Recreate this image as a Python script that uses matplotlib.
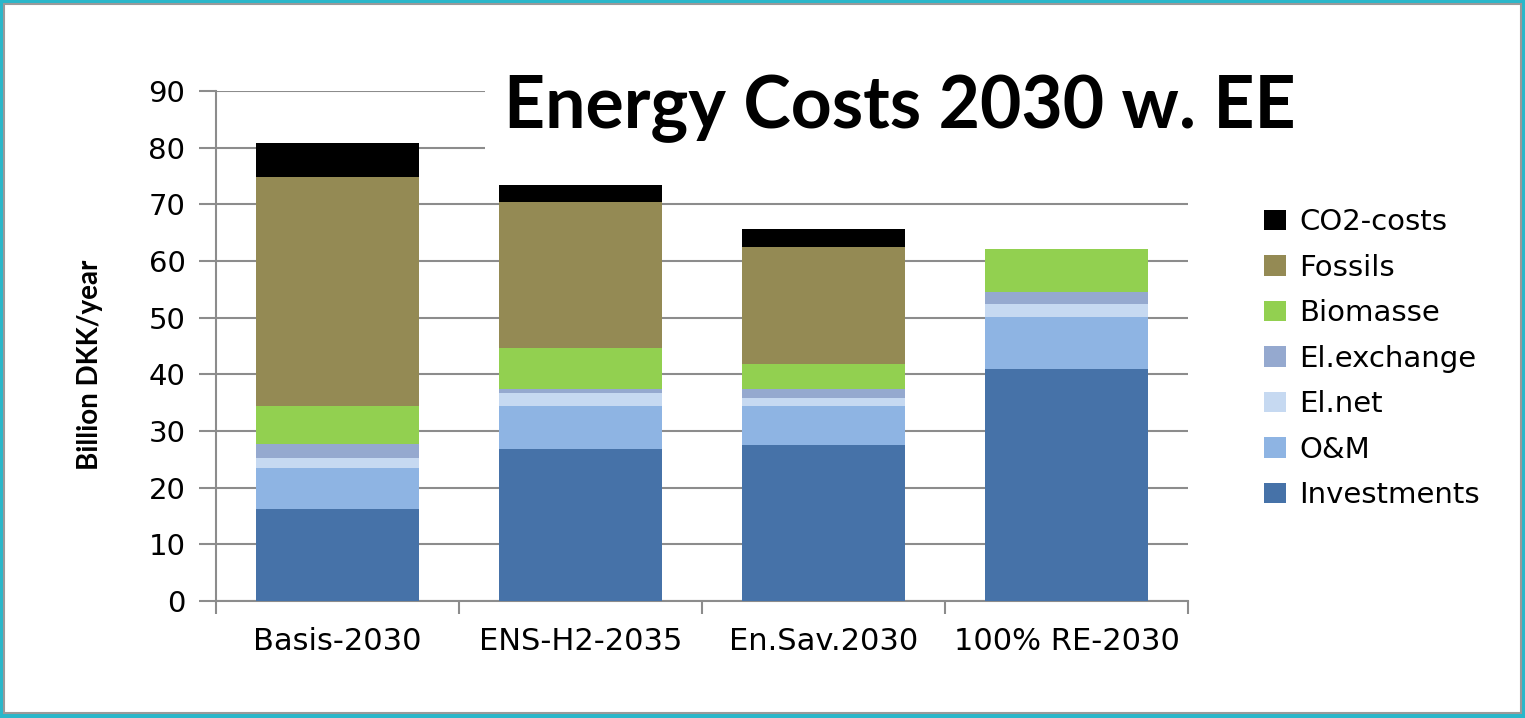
import numpy as np
import matplotlib
matplotlib.use("Agg")
import matplotlib.pyplot as plt
from matplotlib.patches import Rectangle

# data (billion DKK/year)
scenarios = ["Basis-2030", "ENS-H2-2035", "En.Sav.2030", "100% RE-2030"]
investments = [16.2, 26.8, 27.6, 40.9]
om = [7.2, 7.7, 6.9, 9.3]
el_net = [1.8, 2.15, 1.4, 2.15]
el_exchange = [2.45, 0.85, 1.6, 2.25]
biomasse = [6.7, 7.1, 4.4, 7.6]
fossils = [40.55, 25.9, 20.5, 0.0]
co2_costs = [5.9, 3.0, 3.2, 0.0]

series = [
    ("Investments", investments, "#4672A8"),
    ("O&M", om, "#8EB4E3"),
    ("El.net", el_net, "#C6D9F1"),
    ("El.exchange", el_exchange, "#95A9CF"),
    ("Biomasse", biomasse, "#92D050"),
    ("Fossils", fossils, "#948A54"),
    ("CO2-costs", co2_costs, "#000000"),
]

fig = plt.figure(figsize=(15.25, 7.18), dpi=100)
ax = fig.add_axes([216 / 1525, 1 - 601 / 718, (1188 - 216) / 1525, (601 - 91) / 718])

x = np.arange(len(scenarios))
bottom = np.zeros(len(scenarios))
handles = []
for name, vals, col in series:
    b = ax.bar(x, vals, width=0.67, bottom=bottom, color=col, label=name, zorder=3)
    handles.append(b)
    bottom += np.array(vals)

grid_col = "#8C8C8C"
ax.set_xlim(-0.5, len(scenarios) - 0.5)
ax.set_ylim(0, 90)
ax.set_yticks(np.arange(0, 91, 10))
ax.yaxis.grid(True, color=grid_col, linewidth=1.5, zorder=0)
ax.set_axisbelow(True)

for s in ["top", "right"]:
    ax.spines[s].set_visible(False)
for s in ["left", "bottom"]:
    ax.spines[s].set_color(grid_col)
    ax.spines[s].set_linewidth(1.5)

ax.set_xticks(x)
ax.set_xticklabels(scenarios)
ax.set_xticks(np.arange(-0.5, len(scenarios)), minor=True)
ax.tick_params(axis="x", which="major", length=0, pad=19, labelsize=22)
ax.tick_params(axis="x", which="minor", length=9, width=1.5, color=grid_col)
ax.tick_params(axis="y", length=12, width=1.5, color=grid_col, pad=10, labelsize=21)

fig.text(90 / 1525, 1 - 365 / 718, "Billion DKK/year", rotation=90,
         ha="center", va="center", fontsize=20, fontweight="bold", family="Lato")

fig.text(900 / 1525, 1 - 128 / 718, "Energy Costs 2030 w. EE", ha="center",
         va="baseline", fontsize=51.5, fontweight="bold", family="Lato",
         bbox=dict(facecolor="white", edgecolor="none", pad=14))

leg = fig.legend(handles[::-1], [h.get_label() for h in handles[::-1]],
                 loc="upper left", bbox_to_anchor=(1264 / 1525, 1 - 208 / 718),
                 frameon=False, fontsize=21, handlelength=0.75, handleheight=0.7,
                 handletextpad=0.45, labelspacing=0.6, borderpad=0, borderaxespad=0)

# outer frame
fig.patches.append(Rectangle((0, 0), 1, 1, transform=fig.transFigure, fill=False,
                             edgecolor="#2AB7CA", linewidth=6))
fig.patches.append(Rectangle((4 / 1525, 5 / 718), 1 - 8 / 1525, 1 - 9 / 718,
                             transform=fig.transFigure, fill=False,
                             edgecolor="#9A9A9A", linewidth=1.5))

fig.savefig("out.png", dpi=100)
